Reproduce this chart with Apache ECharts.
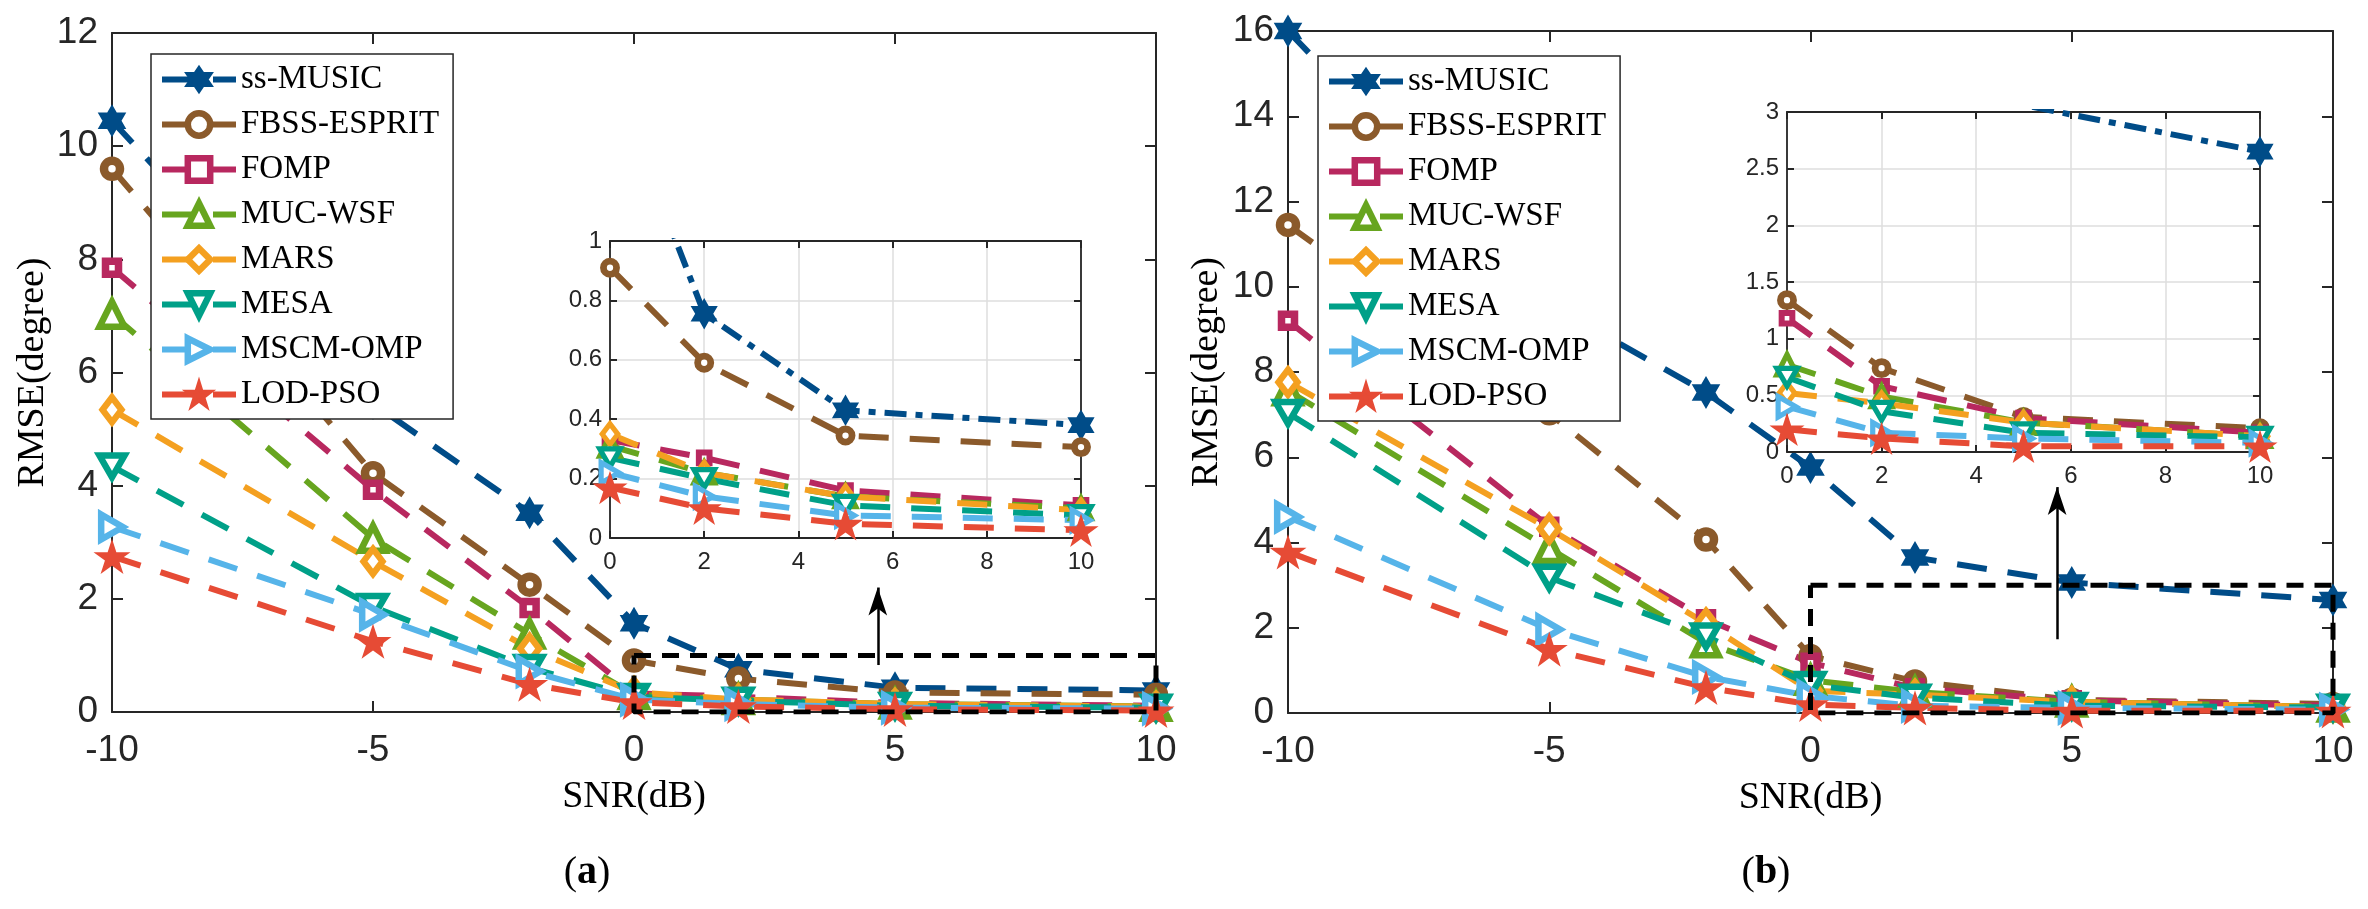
<!DOCTYPE html>
<html>
<head>
<meta charset="utf-8">
<title>RMSE vs SNR</title>
<script src="https://cdn.jsdelivr.net/npm/echarts@6/dist/echarts.min.js"></script>
<style>
  html, body { margin: 0; background: #fff; }
  #chart { width: 2368px; height: 909px; }
</style>
</head>
<body>
<div id="chart"></div>
<script>
// --- data -------------------------------------------------------------------
const SNR = [-10, -5, -2, 0, 2, 5, 10];
const METHODS = ["ss-MUSIC", "FBSS-ESPRIT", "FOMP", "MUC-WSF", "MARS", "MESA", "MSCM-OMP", "LOD-PSO"];

// panel (a)
const A_SS_MUSIC = [10.45, 5.45, 3.52, 1.57, 0.755, 0.43, 0.38];
const A_FBSS     = [9.6, 4.22, 2.25, 0.91, 0.59, 0.345, 0.306];
const A_FOMP     = [7.85, 3.93, 1.84, 0.33, 0.27, 0.16, 0.11];
const A_MUC      = [7.03, 3.07, 1.38, 0.31, 0.22, 0.14, 0.10];
const A_MARS     = [5.34, 2.66, 1.12, 0.35, 0.22, 0.14, 0.093];
const A_MESA     = [4.34, 1.86, 0.78, 0.27, 0.20, 0.11, 0.076];
const A_MSCM     = [3.27, 1.72, 0.72, 0.22, 0.14, 0.076, 0.06];
const A_LOD      = [2.75, 1.25, 0.49, 0.17, 0.10, 0.048, 0.026];

// panel (b)
const B_SS_MUSIC = [16.0, 9.6, 7.52, 5.76, 3.65, 3.06, 2.65];
const B_FBSS     = [11.45, 7.03, 4.07, 1.34, 0.74, 0.31, 0.21];
const B_FOMP     = [9.2, 4.37, 2.2, 1.18, 0.58, 0.30, 0.17];
const B_MUC      = [7.56, 3.86, 1.65, 0.77, 0.49, 0.26, 0.14];
const B_MARS     = [7.76, 4.32, 2.1, 0.52, 0.43, 0.26, 0.14];
const B_MESA     = [7.04, 3.18, 1.8, 0.66, 0.36, 0.17, 0.13];
const B_MSCM     = [4.6, 1.96, 0.85, 0.4, 0.17, 0.12, 0.08];
const B_LOD      = [3.78, 1.5, 0.6, 0.2, 0.12, 0.05, 0.05];

// axis ranges [min, max, interval]
const MAIN_X  = [-10, 10, 5];
const A_MAIN_Y = [0, 12, 2];
const B_MAIN_Y = [0, 16, 2];
const INSET_X = [0, 10, 2];
const A_INSET_Y = [0, 1, 0.2];
const B_INSET_Y = [0, 3, 0.5];

// zoomed region [x0, x1, y0, y1] and arrow [x, yFrom, yTo]
const A_ZOOM = [0, 10, 0, 1];
const B_ZOOM = [0, 10, 0, 3];
const A_ARROW = [4.67, 0.83, 2.2];
const B_ARROW = [4.72, 1.73, 5.3];

// --- style ------------------------------------------------------------------
const SANS = '"Liberation Sans", Arial, Helvetica, sans-serif';
const SERIF = '"Liberation Serif", "Times New Roman", serif';
const AXIS_COLOR = "#262626";
const COLORS = ["#004c88", "#8b5a2b", "#b8285f", "#67a51f", "#f4a020", "#00a088", "#56b4e9", "#e64b35"];

function starPath(n, inner) {
  const pts = [];
  for (let k = 0; k < 2 * n; k++) {
    const r = k % 2 ? 50 * inner : 50;
    const a = -Math.PI / 2 + (k * Math.PI) / n;
    pts.push((50 + r * Math.cos(a)).toFixed(2) + "," + (50 + r * Math.sin(a)).toFixed(2));
  }
  return "path://M" + pts.join("L") + "Z";
}
// MATLAB-like markers: hexagram, o, s, ^, d, v, >, pentagram
const SYMBOLS = [
  starPath(6, 0.577), "circle", "rect", "triangle", "diamond",
  "path://M0,0L100,0L50,86.6Z", "path://M0,0L86.6,50L0,100Z", starPath(5, 0.382),
];
const SIZES = [33, 16, 13, 25, [19, 25], 25, 25, 37];
const BORDERS = [0, 8.5, 7.5, 6.5, 6.5, 6.5, 6.5, 0];

function scaled(v, s) {
  return Array.isArray(v) ? v.map((d) => d * s) : v * s;
}

function lineSeries(i, vals, xi, yi, inset) {
  const pts = SNR.map((x, k) => [x, vals[k]]).filter((p) => !inset || p[0] >= 0);
  const filled = BORDERS[i] === 0;
  const s = inset ? (filled ? 0.95 : 0.82) : 1;
  return {
    type: "line", name: METHODS[i], xAxisIndex: xi, yAxisIndex: yi, data: pts,
    symbol: SYMBOLS[i], symbolSize: scaled(SIZES[i], s),
    symbolKeepAspect: true, showAllSymbol: true,
    lineStyle: { color: COLORS[i], width: 6, type: inset && i === 0 ? [22, 9, 7, 9] : [30, 21] },
    itemStyle: {
      color: filled ? COLORS[i] : "#fff",
      borderColor: COLORS[i], borderWidth: BORDERS[i] * (inset ? 0.8 : 1),
    },
    z: inset ? 13 : 2, silent: true, animation: false,
  };
}

function zoomBox(box, arrow, xi, yi) {
  const [x0, x1, y0, y1] = box;
  return {
    type: "line", xAxisIndex: xi, yAxisIndex: yi, symbol: "none", silent: true, animation: false,
    data: [[x0, y1], [x1, y1], [x1, y0], [x0, y0], [x0, y1]],
    lineStyle: { color: "#000", width: 5, type: [17, 11] }, z: 3,
    markLine: {
      silent: true, animation: false, symbol: ["none", "arrow"], symbolSize: [14, 28],
      label: { show: false }, lineStyle: { color: "#000", width: 2.5, type: "solid" },
      data: [[{ coord: [arrow[0], arrow[1]] }, { coord: [arrow[0], arrow[2]] }]],
    },
  };
}

function axis(gridIndex, range, pos, labels, main, extra) {
  const [min, max, interval] = range;
  return Object.assign({
    type: "value", gridIndex, position: pos, min, max, interval,
    axisLine: { show: true, onZero: false, lineStyle: { color: AXIS_COLOR, width: main ? 2 : 1.8 } },
    axisTick: { show: true, inside: true, length: main ? 11 : 7, lineStyle: { color: AXIS_COLOR, width: 2 } },
    axisLabel: { show: labels, color: AXIS_COLOR, fontFamily: SANS, fontSize: main ? 37 : 24 },
    splitLine: { show: !main && labels, lineStyle: { color: "#dedede", width: 1.5 } },
    z: main ? 1 : 12,
  }, extra || {});
}

const NAME_STYLE = { fontFamily: SERIF, fontSize: 38, color: "#000" };
function mainAxes(g, yRange, yGap) {
  return {
    x: [
      axis(g, MAIN_X, "bottom", true, true, {
        name: "SNR(dB)", nameLocation: "middle", nameGap: 66, nameTextStyle: NAME_STYLE,
        axisLabel: { show: true, color: AXIS_COLOR, fontFamily: SANS, fontSize: 37, margin: 20 },
      }),
      axis(g, MAIN_X, "top", false, true),
    ],
    y: [
      axis(g, yRange, "left", true, true, {
        name: "RMSE(degree)", nameLocation: "middle", nameGap: yGap, nameTextStyle: NAME_STYLE,
        axisLabel: { show: true, color: AXIS_COLOR, fontFamily: SANS, fontSize: 37, margin: 14 },
      }),
      axis(g, yRange, "right", false, true),
    ],
  };
}
function insetAxes(g, yRange) {
  return {
    x: [
      axis(g, INSET_X, "bottom", true, false, {
        axisLabel: { show: true, color: AXIS_COLOR, fontFamily: SANS, fontSize: 24, margin: 12 },
      }),
      axis(g, INSET_X, "top", false, false),
    ],
    y: [
      axis(g, yRange, "left", true, false, {
        axisLabel: { show: true, color: AXIS_COLOR, fontFamily: SANS, fontSize: 24, margin: 8 },
      }),
      axis(g, yRange, "right", false, false),
    ],
  };
}

// legend entries: thicker outline on the filled stars so they read as large as in the figure
const legendItems = () => METHODS.map((name, i) => ({
  name,
  itemStyle: BORDERS[i] === 0
    ? { borderWidth: 4, borderColor: COLORS[i] }
    : { borderWidth: 6.5, borderColor: COLORS[i] },
}));

function legend(left, top) {
  return {
    data: legendItems(), orient: "vertical", left, top, itemWidth: 74, itemHeight: 28, itemGap: 12,
    padding: [9, 14, 8, 8], backgroundColor: "#fff", borderColor: AXIS_COLOR, borderWidth: 1.5,
    textStyle: { fontFamily: SERIF, fontSize: 33, color: "#000" }, selectedMode: false, z: 20,
    lineStyle: { width: 6 },
  };
}

// --- chart ------------------------------------------------------------------
const axesSets = [
  mainAxes(0, A_MAIN_Y, 60), insetAxes(1, A_INSET_Y),
  mainAxes(2, B_MAIN_Y, 62), insetAxes(3, B_INSET_Y),
];
const xAxes = axesSets.flatMap((a) => a.x); // 2 per grid
const yAxes = axesSets.flatMap((a) => a.y);

const A_SERIES = [A_SS_MUSIC, A_FBSS, A_FOMP, A_MUC, A_MARS, A_MESA, A_MSCM, A_LOD];
const B_SERIES = [B_SS_MUSIC, B_FBSS, B_FOMP, B_MUC, B_MARS, B_MESA, B_MSCM, B_LOD];

const series = [];
A_SERIES.forEach((v, i) => series.push(lineSeries(i, v, 0, 0, false)));
series.push(zoomBox(A_ZOOM, A_ARROW, 0, 0));
A_SERIES.forEach((v, i) => series.push(lineSeries(i, v, 2, 2, true)));
B_SERIES.forEach((v, i) => series.push(lineSeries(i, v, 4, 4, false)));
series.push(zoomBox(B_ZOOM, B_ARROW, 4, 4));
B_SERIES.forEach((v, i) => series.push(lineSeries(i, v, 6, 6, true)));

const panelLabel = (x, ch) => ({
  type: "text", x, y: 873, z: 30,
  style: {
    text: "{n|(}{b|" + ch + "}{n|)}", align: "center", verticalAlign: "middle", fill: "#000",
    rich: {
      n: { fontFamily: SERIF, fontSize: 40, fill: "#000" },
      b: { fontFamily: SERIF, fontSize: 40, fontWeight: "bold", fill: "#000" },
    },
  },
});

const chart = echarts.init(document.getElementById("chart"), null, { renderer: "canvas" });
chart.setOption({
  backgroundColor: "#fff",
  animation: false,
  grid: [
    { left: 112, top: 33, width: 1044, height: 679, show: false },
    { left: 610, top: 241, width: 471, height: 297, show: true, backgroundColor: "#fff", borderWidth: 0, z: 10 },
    { left: 1288, top: 31, width: 1045, height: 682, show: false },
    { left: 1787, top: 112, width: 473, height: 340, show: true, backgroundColor: "#fff", borderWidth: 0, z: 10 },
  ],
  xAxis: xAxes,
  yAxis: yAxes,
  legend: [legend(151, 54), legend(1318, 56)],
  series,
  graphic: [panelLabel(587, "a"), panelLabel(1766, "b")],
});
window.addEventListener("resize", () => chart.resize());
</script>
</body>
</html>
